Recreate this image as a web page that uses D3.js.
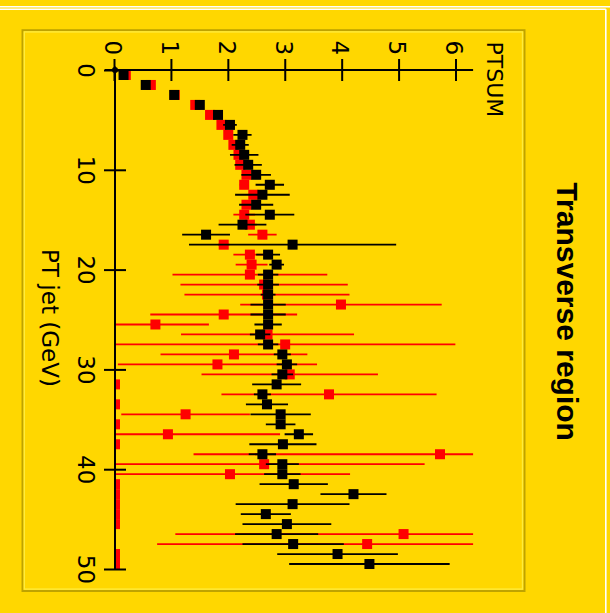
<!DOCTYPE html>
<html>
<head>
<meta charset="utf-8">
<script src="https://cdn.jsdelivr.net/npm/d3@7"></script>
<style>
  html, body { margin: 0; padding: 0; background: #FFD700; overflow: hidden; }
  svg { display: block; }
</style>
</head>
<body>
<svg id="chart" width="610" height="613"></svg>
<script>
// PT jet bin centres (GeV)
const ptBins = [0.5, 1.5, 2.5, 3.5, 4.5, 5.5, 6.5, 7.5, 8.5, 9.5,
  10.5, 11.5, 12.5, 13.5, 14.5, 15.5, 16.5, 17.5, 18.5, 19.5,
  20.5, 21.5, 22.5, 23.5, 24.5, 25.5, 26.5, 27.5, 28.5, 29.5,
  30.5, 31.5, 32.5, 33.5, 34.5, 35.5, 36.5, 37.5, 38.5, 39.5,
  40.5, 41.5, 42.5, 43.5, 44.5, 45.5, 46.5, 47.5, 48.5, 49.5];

// Tick labels
const ptTicks = [0, 10, 20, 30, 40, 50];
const sumTicks = [0, 1, 2, 3, 4, 5, 6];

// Black series: PTSUM and its error
const blackSum = [0.15, 0.54, 1.04, 1.49, 1.81, 2.02, 2.24, 2.20, 2.27, 2.34,
  2.48, 2.72, 2.59, 2.48, 2.72, 2.24, 1.60, 3.12, 2.69, 2.84,
  2.69, 2.69, 2.69, 2.69, 2.69, 2.69, 2.55, 2.69, 2.94, 3.02,
  2.94, 2.84, 2.59, 2.67, 2.91, 2.91, 3.23, 2.95, 2.59, 2.94,
  2.94, 3.14, 4.19, 3.12, 2.65, 3.02, 2.84, 3.13, 3.91, 4.47];
const blackErr = [0.05, 0.05, 0.05, 0.05, 0.06, 0.12, 0.16, 0.15, 0.25, 0.24,
  0.26, 0.25, 0.48, 0.30, 0.43, 0.42, 0.42, 1.82, 0.21, 0.13,
  0.18, 0.19, 0.13, 0.31, 0.31, 0.24, 0.18, 0.18, 0.15, 0.18,
  0.19, 0.43, 0.15, 0.37, 0.53, 0.26, 0.25, 0.59, 0.24, 0.29,
  0.32, 0.60, 0.58, 1.00, 0.44, 0.78, 0.73, 0.89, 1.06, 1.41];

// Red series: PTSUM and its error
const redSum = [0.19, 0.63, 1.05, 1.41, 1.67, 1.87, 1.99, 2.08, 2.17, 2.20,
  2.31, 2.27, 2.43, 2.31, 2.27, 2.37, 2.59, 1.91, 2.37, 2.40,
  2.37, 2.62, 2.67, 3.97, 1.91, 0.71, 2.68, 2.99, 2.09, 1.80,
  3.07, 0, 3.76, 0, 1.24, 0, 0.93, 0, 5.71, 2.62,
  2.02, 0, 0, 0, 0, 0, 5.07, 4.43, 0, 0];
const redErr = [0.05, 0.05, 0.05, 0.05, 0.05, 0.05, 0.05, 0.05, 0.05, 0.05,
  0.08, 0.08, 0.08, 0.08, 0.19, 0.12, 0.25, 0.10, 0.29, 0.28,
  1.36, 1.47, 1.45, 1.77, 1.29, 0.94, 1.52, 2.99, 1.29, 1.75,
  1.55, 0, 1.89, 0, 1.13, 0, 1.97, 0, 4.33, 2.82,
  2.11, 0, 0, 0, 0, 0, 4.01, 3.69, 0, 0];

const W = 610, H = 613;
const BG = '#FFD700';
const INK = '#000000';
const RED = '#FF0000';
const LABEL_FONT = '"DejaVu Sans", sans-serif';

const svg = d3.select('#chart');
svg.append('rect').attr('width', W).attr('height', H).attr('fill', BG);

// window edge lines
svg.append('line').attr('x1', 0).attr('x2', W).attr('y1', 6.8).attr('y2', 6.8)
  .attr('stroke', '#fff').attr('stroke-width', 1.6);
svg.append('line').attr('x1', 0).attr('x2', 605.8).attr('y1', 9.3).attr('y2', 9.3)
  .attr('stroke', '#fff').attr('stroke-width', 1.6);
svg.append('line').attr('x1', 605.8).attr('x2', 605.8).attr('y1', 9.3).attr('y2', H)
  .attr('stroke', '#fff').attr('stroke-width', 1.6);

// etched panel border
svg.append('rect').attr('x', 22.5).attr('y', 30.2).attr('width', 502).attr('height', 560.8)
  .attr('fill', 'none').attr('stroke', '#BFA300').attr('stroke-width', 2);
svg.append('rect').attr('x', 24.3).attr('y', 31.9).attr('width', 498.2).attr('height', 557.2)
  .attr('fill', 'none').attr('stroke', '#FFEC3C').attr('stroke-width', 1.4);

// The plot is laid out upright and then turned a quarter turn clockwise.
const g = svg.append('g').attr('transform', `translate(${W},0) rotate(90)`);

const x = d3.scaleLinear().domain([0, 50]).range([70, 569]);
const y = d3.scaleLinear().domain([0, 6]).range([495, 153.5]);

// plot area clip
const clipTop = y(6) - 16.6;
g.append('clipPath').attr('id', 'plotClip')
  .append('rect')
  .attr('x', x(0) - 8).attr('y', clipTop)
  .attr('width', x(50) - x(0) + 16).attr('height', y(0) - clipTop);

const plot = g.append('g').attr('clip-path', 'url(#plotClip)');

const MS = 10; // marker size

function drawSeries(vals, errs, color) {
  const rows = ptBins.map((pt, i) => ({ pt, v: vals[i], e: errs[i] }));
  const s = plot.append('g');
  s.selectAll('line.err').data(rows).join('line')
    .attr('class', 'err')
    .attr('x1', d => x(d.pt)).attr('x2', d => x(d.pt))
    .attr('y1', d => y(d.v - d.e)).attr('y2', d => y(d.v + d.e))
    .attr('stroke', color).attr('stroke-width', 1.8);
  s.selectAll('rect.mk').data(rows).join('rect')
    .attr('class', 'mk')
    .attr('x', d => x(d.pt) - MS / 2).attr('y', d => y(d.v) - MS / 2)
    .attr('width', MS).attr('height', MS)
    .attr('fill', color);
}

drawSeries(redSum, redErr, RED);
drawSeries(blackSum, blackErr, INK);

// PT jet axis
const xAxis = d3.axisBottom(x).tickValues(ptTicks).tickFormat(d3.format('d'))
  .tickSizeOuter(0).tickSize(11);
const xg = g.append('g').attr('transform', `translate(0,${y(0)})`).call(xAxis);
xg.select('.domain').remove();
xg.selectAll('.tick line').attr('y1', -11).attr('y2', 11)
  .attr('stroke', INK).attr('stroke-width', 2);
xg.selectAll('.tick text')
  .attr('y', 37.5).attr('dy', null)
  .attr('fill', INK)
  .style('font-family', LABEL_FONT).style('font-size', '23px');
g.append('line')
  .attr('x1', x(0) - 3.5).attr('x2', x(50))
  .attr('y1', y(0)).attr('y2', y(0))
  .attr('stroke', INK).attr('stroke-width', 2);

// PTSUM axis
const yAxis = d3.axisLeft(y).tickValues(sumTicks).tickFormat(d3.format('d'))
  .tickSizeOuter(0).tickSize(11);
const yg = g.append('g').attr('transform', `translate(${x(0)},0)`).call(yAxis);
yg.select('.domain').remove();
yg.selectAll('.tick line').attr('x1', -11).attr('x2', 11)
  .attr('stroke', INK).attr('stroke-width', 2);
yg.selectAll('.tick text')
  .attr('x', -22.3).attr('dy', null).attr('y', 9.7)
  .attr('text-anchor', 'middle')
  .attr('fill', INK)
  .style('font-family', LABEL_FONT).style('font-size', '23px');
g.append('line')
  .attr('x1', x(0)).attr('x2', x(0))
  .attr('y1', y(0) + 10).attr('y2', clipTop)
  .attr('stroke', INK).attr('stroke-width', 2);

// origin dot
g.append('circle').attr('cx', x(0)).attr('cy', y(0)).attr('r', 3).attr('fill', INK);

// axis titles
g.append('text')
  .attr('x', 41.5).attr('y', 123)
  .attr('fill', INK)
  .style('font-family', LABEL_FONT).style('font-size', '22px')
  .text('PTSUM');

g.append('text')
  .attr('x', (x(0) + x(50)) / 2 - 1.5).attr('y', 568.5)
  .attr('text-anchor', 'middle')
  .attr('fill', INK)
  .style('font-family', LABEL_FONT).style('font-size', '23px')
  .text('PT jet (GeV)');

// chart title
g.append('text')
  .attr('x', 311.7).attr('y', 53.5)
  .attr('text-anchor', 'middle')
  .attr('fill', INK)
  .style('font-family', '"Liberation Sans", Arial, sans-serif')
  .style('font-size', '30px').style('font-weight', 'bold')
  .text('Transverse region');
</script>
</body>
</html>
